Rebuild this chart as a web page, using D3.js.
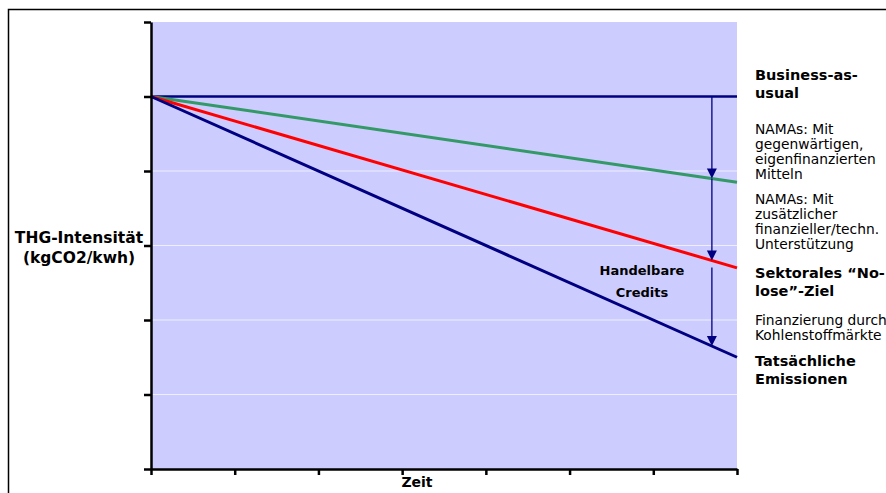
<!DOCTYPE html>
<html><head><meta charset="utf-8">
<script src="https://cdn.jsdelivr.net/npm/d3@7"></script>
<style>
html,body{margin:0;padding:0;background:#fff;}
svg{display:block;font-family:"DejaVu Sans",Verdana,sans-serif;}
</style></head>
<body>
<svg id="chart" width="886" height="493"></svg>
<script>
// ---- data ----
const xTicks = [0,1,2,3,4,5,6,7];
const yTicks = [0,1,2,3,4,5,6];
const xStartEnd = [0, 7];
const seriesNames = ["Business-as-usual","NAMAs eigenfinanziert","Sektorales No-lose-Ziel","Tatsächliche Emissionen"];
const bauValues    = [5, 5];
const greenValues  = [5, 3.85];
const redValues    = [5, 2.70];
const blueValues   = [5, 1.50];
const arrowAt = 6.7;
const yAxisLabel = ["THG-Intensität","(kgCO2/kwh)"];
const xAxisLabel = "Zeit";
const creditsLabel = ["Handelbare","Credits"];
const rightLabels = [
  {lines:["Business-as-","usual"], bold:true},
  {lines:["NAMAs: Mit","gegenwärtigen,","eigenfinanzierten","Mitteln"], bold:false},
  {lines:["NAMAs: Mit","zusätzlicher","finanzieller/techn.","Unterstützung"], bold:false},
  {lines:["Sektorales “No-","lose”-Ziel"], bold:true},
  {lines:["Finanzierung durch","Kohlenstoffmärkte"], bold:false},
  {lines:["Tatsächliche","Emissionen"], bold:true}
];

// ---- chart ----
const svg = d3.select("#chart");
const x = d3.scaleLinear().domain([0,7]).range([151,737]);
const y = d3.scaleLinear().domain([0,6]).range([469,22]);

// outer frame
svg.append("rect").attr("x",8.5).attr("y",9.5).attr("width",900).attr("height",500)
  .attr("fill","none").attr("stroke","#000").attr("stroke-width",1.5);

// plot background
svg.append("rect").attr("x",x(0)).attr("y",y(6)).attr("width",x(7)-x(0)).attr("height",y(0)-y(6))
  .attr("fill","#CCCCFF");

// gridlines
svg.append("g").selectAll("line").data(yTicks.filter(d=>d>0&&d<6)).join("line")
  .attr("x1",x(0)).attr("x2",x(7)).attr("y1",d=>y(d)).attr("y2",d=>y(d))
  .attr("stroke","#EEEEFF").attr("stroke-width",1);

// series
const line = d3.line().x(d=>x(d[0])).y(d=>y(d[1]));
const series = [
  {vals:bauValues, color:"#000080", w:2.5},
  {vals:greenValues, color:"#339966", w:3},
  {vals:redValues, color:"#FF0000", w:3},
  {vals:blueValues, color:"#000080", w:3}
];
svg.append("g").selectAll("path").data(series).join("path")
  .attr("d",s=>line(xStartEnd.map((xv,i)=>[xv,s.vals[i]])))
  .attr("fill","none").attr("stroke",s=>s.color).attr("stroke-width",s=>s.w);

// arrows
function valAt(vals, t){ return vals[0] + (vals[1]-vals[0])*(t - xStartEnd[0])/(xStartEnd[1]-xStartEnd[0]); }
const ax = x(arrowAt);
const arrows = [
  {from:valAt(bauValues,arrowAt), to:valAt(greenValues,arrowAt), gap:0},
  {from:valAt(greenValues,arrowAt), to:valAt(redValues,arrowAt), gap:0},
  {from:valAt(redValues,arrowAt), to:valAt(blueValues,arrowAt), gap:7}
];
const ag = svg.append("g");
arrows.forEach(a=>{
  const y0 = y(a.from)+a.gap, y1 = y(a.to);
  ag.append("line").attr("x1",ax).attr("x2",ax).attr("y1",y0).attr("y2",y1-9)
    .attr("stroke","#000080").attr("stroke-width",1.3);
  ag.append("path").attr("d",`M${ax-5},${y1-10}L${ax+5},${y1-10}L${ax},${y1}Z`).attr("fill","#000080");
});

// axes
const ya = svg.append("g").attr("transform",`translate(${x(0)},0)`)
  .call(d3.axisLeft(y).tickValues(yTicks).tickSize(7).tickSizeOuter(0).tickFormat(""));
const xa = svg.append("g").attr("transform",`translate(0,${y(0)})`)
  .call(d3.axisBottom(x).tickValues(xTicks).tickSize(6).tickSizeOuter(0).tickFormat(""));
[ya,xa].forEach(g=>{
  g.selectAll("path,line").attr("stroke","#000").attr("stroke-width",2.5);
});

// axis labels
svg.append("text").attr("x",79).attr("text-anchor","middle")
  .attr("font-weight","bold").attr("font-size",15.5).attr("fill","#000")
  .selectAll("tspan").data(yAxisLabel).join("tspan")
  .attr("x",79).attr("y",(d,i)=>243+i*20).text(d=>d);
svg.append("text").attr("x",417).attr("y",487).attr("text-anchor","middle")
  .attr("font-weight","bold").attr("font-size",14).text(xAxisLabel);

// credits label
svg.append("text").attr("text-anchor","middle").attr("font-weight","bold").attr("font-size",13)
  .selectAll("tspan").data(creditsLabel).join("tspan")
  .attr("x",642).attr("y",(d,i)=>275+i*22).text(d=>d);

// right labels
const firstBase = [80, 134, 204, 278, 325, 366];
const lineH = {true:17.5, false:15};
rightLabels.forEach((lab,i)=>{
  svg.append("text").attr("font-weight",lab.bold?"bold":"normal")
    .attr("font-size",lab.bold?14.5:13.8).attr("fill","#000")
    .selectAll("tspan").data(lab.lines).join("tspan")
    .attr("x",755).attr("y",(d,j)=>firstBase[i]+j*lineH[lab.bold]).text(d=>d);
});
</script>
</body></html>
